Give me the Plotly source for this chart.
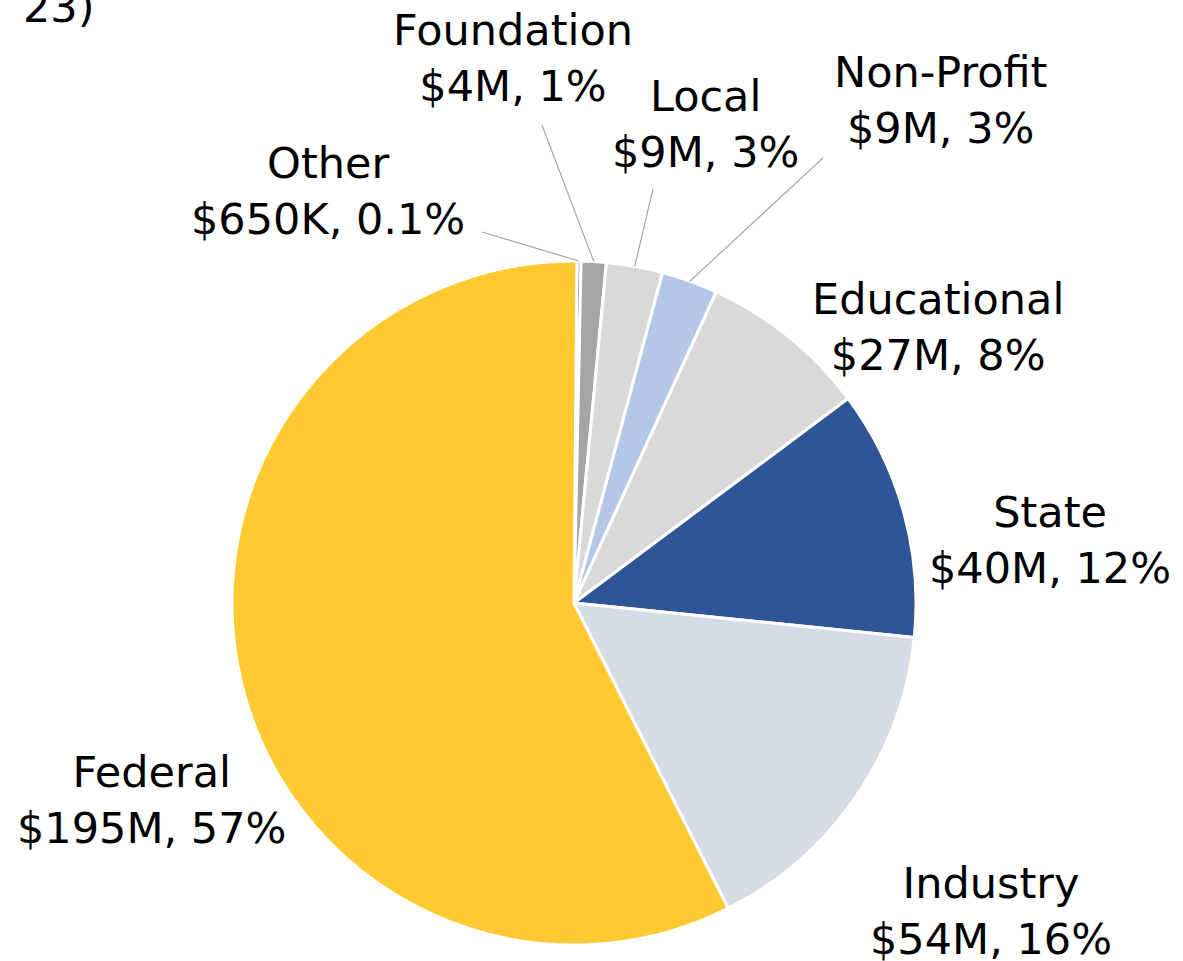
import math
import plotly.graph_objects as go

# ---- data ----
categories = ["Other", "Foundation", "Local", "Non-Profit", "Educational", "State", "Industry", "Federal"]
values_musd = [0.65, 4, 9, 9, 27, 40, 54, 195]
amount_labels = ["$650K", "$4M", "$9M", "$9M", "$27M", "$40M", "$54M", "$195M"]
pct_labels = ["0.1%", "1%", "3%", "3%", "8%", "12%", "16%", "57%"]
colors = ["#7F7F7F", "#A5A5A5", "#D9D9D9", "#B4C7E7", "#D9D9D9", "#2F5597", "#D6DCE5", "#FFCA31"]

# ---- layout constants (pixels) ----
W, H = 1183, 961
CX, CY, R = 574, 603, 342
ROT = 0.5
FONT = "DejaVu Sans"
FS = 43
# label block centers (px)
label_pos = {
    "Other": (328, 191),
    "Foundation": (513, 58),
    "Local": (705, 124),
    "Non-Profit": (940, 100),
    "Educational": (938, 327),
    "State": (1050, 540),
    "Industry": (991, 911),
    "Federal": (151, 800),
}
# leader line outer endpoints (px) for small slices
leader_end = {
    "Other": (482, 232),
    "Foundation": (542, 125),
    "Local": (653, 189),
    "Non-Profit": (823, 158),
}

def px2paper(x, y):
    return x / W, 1 - y / H

fig = go.Figure()
fig.add_trace(go.Pie(
    labels=categories,
    values=values_musd,
    sort=False,
    direction="clockwise",
    rotation=ROT,
    marker=dict(colors=colors, line=dict(color="white", width=3)),
    textinfo="none",
    hoverinfo="label+value+percent",
    showlegend=False,
    domain=dict(x=[(CX - R) / W, (CX + R) / W], y=[(H - CY - R) / H, (H - CY + R) / H]),
))

annotations = []
for cat, amt, pct in zip(categories, amount_labels, pct_labels):
    lx, ly = label_pos[cat]
    x, y = px2paper(lx, ly)
    annotations.append(dict(
        x=x, y=y, xref="paper", yref="paper", xanchor="center", yanchor="middle",
        text=f"{cat}<br>{amt}, {pct}", showarrow=False, align="center",
        font=dict(family=FONT, size=FS, color="#000000"),
    ))

# partially visible title at top-left
tx, ty = px2paper(97, 7)
annotations.append(dict(
    x=tx, y=ty, xref="paper", yref="paper", xanchor="right", yanchor="middle",
    text="23)", showarrow=False, font=dict(family=FONT, size=FS, color="#000000"),
))

# leader lines from slice mid-angle on the edge
total = sum(values_musd)
shapes = []
cum = 0.0
for cat, v in zip(categories, values_musd):
    mid = (cum + v / 2) / total * 2 * math.pi + math.radians(ROT)
    cum += v
    if cat in leader_end:
        ex, ey = CX + R * math.sin(mid), CY - R * math.cos(mid)
        x0, y0 = px2paper(ex, ey)
        x1, y1 = px2paper(*leader_end[cat])
        shapes.append(dict(type="line", xref="paper", yref="paper", x0=x0, y0=y0, x1=x1, y1=y1,
                           line=dict(color="#A6A6A6", width=1.2)))

fig.update_layout(
    width=W, height=H,
    margin=dict(l=0, r=0, t=0, b=0),
    paper_bgcolor="white", plot_bgcolor="white",
    annotations=annotations, shapes=shapes,
)
fig.write_html("out.html", config={"displayModeBar": False},
               post_script="document.body.style.margin='0';document.body.style.overflow='hidden';")
